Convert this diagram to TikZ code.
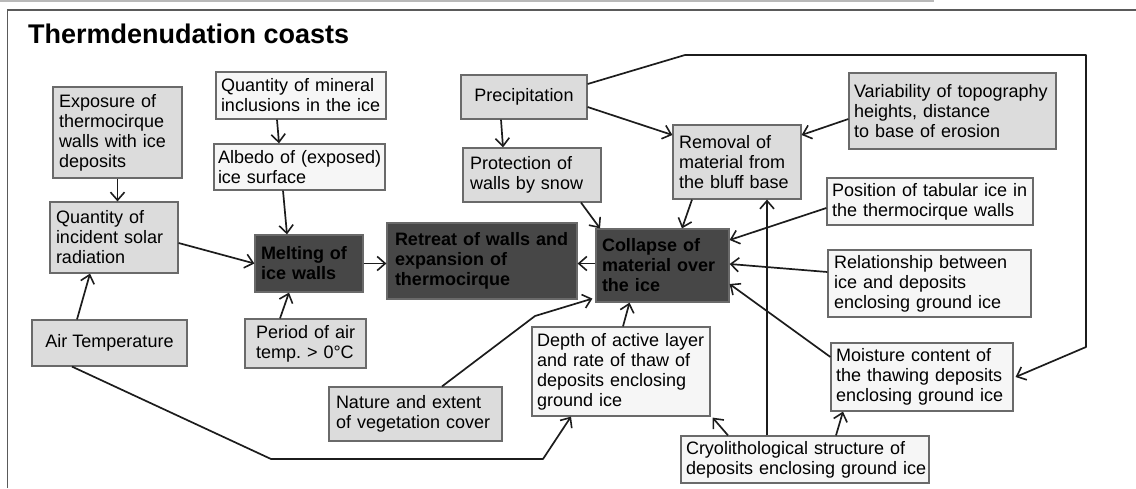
\documentclass[tikz,border=0pt]{standalone}
\usepackage{fontspec}
\setmainfont{Liberation Sans}
\usetikzlibrary{arrows.meta,calc}
\definecolor{boxgray}{HTML}{DCDCDC}
\definecolor{boxwhite}{HTML}{F6F6F6}
\definecolor{boxdark}{HTML}{474747}
\definecolor{boxline}{HTML}{6A6A6A}
\definecolor{linecol}{HTML}{1C1C1C}
\definecolor{framecol}{HTML}{5A5A5A}
\newcommand\Lx[1]{\mbox{#1}}
\tikzset{
  bx/.style={draw=boxline, line width=1.2pt, inner xsep=6pt, inner ysep=2pt,
    align=left, anchor=center, text=black,
    font=\fontsize{18}{20}\selectfont},
  gbox/.style={bx, fill=boxgray},
  wbox/.style={bx, fill=boxwhite},
  dbox/.style={bx, fill=boxdark, text=black, font=\fontsize{18}{20}\selectfont\bfseries},
  conn/.style={draw=linecol, line width=1.7pt, line join=round,
    -{Straight Barb[length=8pt,width=14pt,line width=1.6pt]}},
}
\begin{document}
\begin{tikzpicture}[x=1pt,y=-1pt]
\useasboundingbox (0,0) rectangle (1136,488);
% frame
\draw[gray!55, line width=1.5pt] (0,0.75) -- (934,0.75);
\draw[framecol, line width=1.8pt] (7.5,488) -- (7.5,10) -- (1136,10);
\node[anchor=base west, font=\fontsize{27}{30}\selectfont\bfseries, inner sep=0pt] (title) at (28,43) {Thermdenudation coasts};

% nodes
\node[gbox, minimum width=129pt, minimum height=91pt, text width=117pt] (expo) at (117.5,132.5)
  {\Lx{Exposure of}\\\Lx{thermocirque}\\\Lx{walls with ice}\\\Lx{deposits}};
\node[gbox, minimum width=128pt, minimum height=71pt, text width=116pt] (qisr) at (114,237.5)
  {\Lx{Quantity of}\\\Lx{incident solar}\\\Lx{radiation}};
\node[wbox, minimum width=170pt, minimum height=47pt, text width=160pt, inner xsep=5pt] (qmin) at (301,95.5)
  {\Lx{Quantity of mineral}\\\Lx{inclusions in the ice}};
\node[wbox, minimum width=171pt, minimum height=46pt, text width=163pt, inner xsep=4pt] (albedo) at (299.5,167)
  {\Lx{Albedo of (exposed)}\\\Lx{ice surface}};
\node[dbox, minimum width=108pt, minimum height=57pt, text width=96pt] (melt) at (309,263.5)
  {\Lx{Melting of}\\\Lx{ice walls}};
\node[gbox, minimum width=126pt, minimum height=44pt, align=center] (prec) at (524,97)
  {Precipitation};
\node[gbox, minimum width=138pt, minimum height=54pt, text width=124pt, inner xsep=7pt] (prot) at (532,175)
  {\Lx{Protection of}\\\Lx{walls by snow}};
\node[gbox, minimum width=128pt, minimum height=74pt, text width=116pt] (remov) at (737,162)
  {\Lx{Removal of}\\\Lx{material from}\\\Lx{the bluff base}};
\node[dbox, minimum width=190pt, minimum height=76pt, text width=174pt, inner xsep=8pt] (retreat) at (482,261)
  {\Lx{Retreat of walls and}\\\Lx{expansion of}\\\Lx{thermocirque}};
\node[dbox, minimum width=133pt, minimum height=73pt, text width=121pt] (collapse) at (662.5,265.5)
  {\Lx{Collapse of}\\\Lx{material over}\\\Lx{the ice}};
\node[gbox, minimum width=207pt, minimum height=76pt, text width=197pt, inner xsep=5pt] (var) at (952.5,111)
  {\Lx{Variability of topography}\\\Lx{heights, distance}\\\Lx{to base of erosion}};
\node[wbox, minimum width=206pt, minimum height=47pt, text width=196pt, inner xsep=5pt] (pos) at (930,201.5)
  {\Lx{Position of tabular ice in}\\\Lx{the thermocirque walls}};
\node[wbox, minimum width=203pt, minimum height=67pt, text width=191pt] (rel) at (929.5,283.5)
  {\Lx{Relationship between}\\\Lx{ice and deposits}\\\Lx{enclosing ground ice}};
\node[wbox, minimum width=182pt, minimum height=68pt, text width=172pt, inner xsep=5pt] (moist) at (922,377)
  {\Lx{Moisture content of}\\\Lx{the thawing deposits}\\\Lx{enclosing ground ice}};
\node[wbox, minimum width=248pt, minimum height=47pt, text width=238pt, inner xsep=5pt] (cryo) at (805,459.5)
  {\Lx{Cryolithological structure of}\\\Lx{deposits enclosing ground ice}};
\node[wbox, minimum width=178pt, minimum height=89pt, text width=168pt, inner xsep=5pt] (depth) at (621,371.5)
  {\Lx{Depth of active layer}\\\Lx{and rate of thaw of}\\\Lx{deposits enclosing}\\\Lx{ground ice}};
\node[gbox, minimum width=173pt, minimum height=54pt, text width=159pt, inner xsep=7pt] (nature) at (415.5,414)
  {\Lx{Nature and extent}\\\Lx{of vegetation cover}};
\node[gbox, minimum width=155pt, minimum height=46pt, align=center] (air) at (109.5,343)
  {Air Temperature};
\node[gbox, minimum width=121pt, minimum height=49pt, text width=99pt, inner xsep=11pt] (period) at (305.5,343.5)
  {\Lx{Period of air}\\\Lx{temp.\ > 0°C}};

% free bend points
\coordinate (b1) at (535,316);
\coordinate (b2) at (271,459);
\coordinate (b3) at (543,459);
\coordinate (b4) at (685,55);
\coordinate (b5) at (1086,55);
\coordinate (b6) at (1086,347);

% connectors
\draw[conn] (expo.south) -- (expo.south |- qisr.north);
\draw[conn] ([xshift=-24pt]qmin.south) -- ([xshift=-20.5pt]albedo.north);
\draw[conn] ([xshift=-16.5pt]albedo.south) -- ([xshift=-22pt]melt.north);
\draw[conn] ([yshift=-5.5pt]qisr.east) -- (melt.west);
\draw[conn] ([xshift=-32.5pt]air.north) -- ([xshift=-24pt]qisr.south);
\draw[conn] ([xshift=-25.5pt]period.north) -- ([xshift=-20pt]melt.south);
\draw[conn] (melt.east) -- (melt.east -| retreat.west);
\draw[conn] ([yshift=2pt]collapse.west) -- ([yshift=2pt]collapse.west -| retreat.east);
\draw[conn] ([xshift=-23pt]prec.south) -- ([xshift=-29pt]prot.north);
\draw[conn] ([yshift=-10pt]prec.east) -- ([yshift=27pt]remov.west);
\draw[conn] ([xshift=49pt]prot.south) -- ([xshift=-62.5pt]collapse.north);
\draw[conn] ([xshift=-45pt]remov.south) -- ([xshift=19.5pt]collapse.north);
\draw[conn] ([yshift=-8pt]var.west) -- ([yshift=27pt]remov.east);
\draw[conn] ([yshift=-6.5pt]pos.west) -- ([yshift=25.5pt]collapse.east);
\draw[conn] ([yshift=11.5pt]rel.west) -- ([yshift=1.5pt]collapse.east);
\draw[conn] ([yshift=20pt]moist.west) -- ([yshift=-18.5pt]collapse.east);
\draw[conn] ([xshift=2pt]depth.north) -- ([xshift=-33pt]collapse.south);
\draw[conn] ([xshift=26.5pt]nature.north) -- (b1) -- ([xshift=-3pt,yshift=4pt]collapse.south west);
\draw[conn] ([xshift=-37.5pt]air.south) -- (b2) -- (b3) -- ([xshift=-50pt]depth.south);
\draw[conn] ([xshift=-77pt]cryo.north) -- ([xshift=2pt,yshift=-1pt]depth.south east);
\draw[conn] ([xshift=-38pt]cryo.north) -- ([xshift=-38pt]cryo.north |- remov.south);
\draw[conn] ([xshift=31pt]cryo.north) -- ([xshift=-79pt]moist.south);
\draw[conn] ([yshift=13pt]prec.east) -- (b4) -- (b5) -- (b6) -- ([xshift=2pt]moist.east);
\end{tikzpicture}
\end{document}
